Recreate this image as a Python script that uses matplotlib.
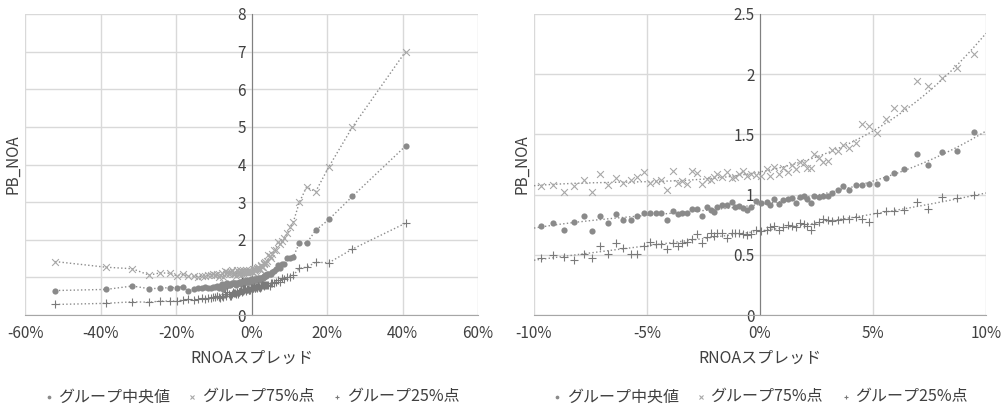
#!/usr/bin/env python
# -*- coding: utf-8 -*-
"""PB_NOA vs RNOA spread, by group (median / 75th / 25th percentile)
"""

import numpy as np
import matplotlib
matplotlib.use("Agg")
import matplotlib.pyplot as plt
from matplotlib.ticker import FuncFormatter

plt.rcParams['font.family'] = ['Noto Sans CJK JP', 'DejaVu Sans']

# group RNOA spread (%), sorted
rnoa = [-52.0, -38.5, -31.6, -27.1, -24.2, -21.6, -19.8, -18.2, -16.7, -15.3,
        -14.2, -13.2, -12.3, -11.5, -10.8, -10.2,
        -9.69, -9.18, -8.67, -8.22, -7.80, -7.42, -7.07, -6.71, -6.36, -6.06,
        -5.73, -5.44, -5.13, -4.87, -4.62, -4.39, -4.10, -3.83, -3.64, -3.44,
        -3.22, -3.00, -2.77, -2.58, -2.36, -2.18, -2.04, -1.89, -1.69, -1.45,
        -1.25, -1.11, -0.92, -0.77, -0.59, -0.40, -0.18, 0.05, 0.30, 0.44,
        0.62, 0.84, 1.03, 1.25, 1.43, 1.58, 1.77, 1.95, 2.10, 2.24,
        2.40, 2.61, 2.80, 3.00, 3.20, 3.44, 3.69, 3.95, 4.23, 4.50,
        4.84, 5.19, 5.56, 5.93, 6.37, 6.93, 7.45, 8.04, 8.70, 9.47,
        10.3, 11.1, 12.7, 14.6, 17.0, 20.5, 26.7, 40.8]

pb_median = [0.65, 0.68, 0.77, 0.70, 0.71, 0.73, 0.73, 0.75, 0.63, 0.70,
             0.72, 0.71, 0.74, 0.73, 0.72, 0.74,
             0.74, 0.76, 0.71, 0.77, 0.82, 0.70, 0.82, 0.76, 0.84, 0.79,
             0.79, 0.82, 0.85, 0.85, 0.85, 0.85, 0.79, 0.86, 0.84, 0.85,
             0.85, 0.88, 0.88, 0.82, 0.90, 0.87, 0.855, 0.895, 0.91, 0.91,
             0.94, 0.90, 0.905, 0.89, 0.87, 0.90, 0.95, 0.93, 0.94, 0.91,
             0.96, 0.92, 0.955, 0.96, 0.97, 0.93, 0.98, 0.99, 0.96, 0.93,
             0.99, 0.98, 0.99, 0.99, 1.01, 1.04, 1.07, 1.04, 1.08, 1.08,
             1.085, 1.09, 1.14, 1.18, 1.21, 1.34, 1.25, 1.35, 1.36, 1.52,
             1.52, 1.55, 1.92, 1.91, 2.25, 2.54, 3.15, 4.49]

pb_p75 = [1.42, 1.27, 1.23, 1.06, 1.12, 1.11, 1.04, 1.08, 1.04, 1.03,
          1.02, 1.03, 1.04, 1.05, 1.06, 1.08,
          1.07, 1.08, 1.02, 1.07, 1.12, 1.02, 1.17, 1.08, 1.14, 1.10,
          1.12, 1.15, 1.19, 1.10, 1.11, 1.12, 1.04, 1.20, 1.10, 1.11,
          1.09, 1.20, 1.18, 1.09, 1.13, 1.12, 1.15, 1.17, 1.15, 1.19,
          1.14, 1.15, 1.17, 1.20, 1.155, 1.17, 1.16, 1.155, 1.21, 1.155,
          1.23, 1.17, 1.22, 1.19, 1.25, 1.21, 1.27, 1.26, 1.22, 1.22,
          1.34, 1.30, 1.27, 1.28, 1.37, 1.36, 1.41, 1.39, 1.43, 1.59,
          1.57, 1.51, 1.63, 1.72, 1.72, 1.94, 1.90, 1.97, 2.05, 2.17,
          2.33, 2.48, 3.00, 3.40, 3.28, 3.94, 4.99, 7.00]

pb_p25 = [0.28, 0.31, 0.35, 0.34, 0.37, 0.37, 0.37, 0.40, 0.42, 0.40,
          0.43, 0.44, 0.43, 0.45, 0.46, 0.47,
          0.47, 0.50, 0.48, 0.46, 0.51, 0.47, 0.57, 0.51, 0.60, 0.56,
          0.51, 0.51, 0.57, 0.61, 0.59, 0.59, 0.55, 0.60, 0.57, 0.60,
          0.61, 0.63, 0.67, 0.60, 0.65, 0.68, 0.66, 0.685, 0.68, 0.64,
          0.685, 0.685, 0.685, 0.67, 0.665, 0.67, 0.705, 0.70, 0.71, 0.73,
          0.74, 0.705, 0.73, 0.75, 0.74, 0.73, 0.76, 0.755, 0.74, 0.71,
          0.755, 0.775, 0.795, 0.79, 0.78, 0.79, 0.80, 0.795, 0.81, 0.795,
          0.775, 0.845, 0.86, 0.86, 0.87, 0.94, 0.88, 0.98, 0.97, 1.00,
          1.02, 1.06, 1.24, 1.27, 1.40, 1.39, 1.75, 2.44]

series_names = ['グループ中央値', 'グループ75%点', 'グループ25%点']

x = np.array(rnoa)
series = [np.array(pb_median), np.array(pb_p75), np.array(pb_p25)]
markers = ['o', 'x', '+']
sizes = [20, 24, 26]
colors = ['#8a8a8a', '#a8a8a8', '#7a7a7a']
lw = [0, 0.8, 0.8]

fig = plt.figure(figsize=(10.07, 4.08), dpi=100)
ax_l = fig.add_axes([25 / 1007, 93 / 408, 453 / 1007, 301 / 408])
ax_r = fig.add_axes([534 / 1007, 93 / 408, 452 / 1007, 301 / 408])

pct = FuncFormatter(lambda v, p: '{:.0f}%'.format(v))
num = FuncFormatter(lambda v, p: '{:g}'.format(v))


def style(ax, xlim, xticks, ylim, yticks):
    ax.set_xlim(xlim)
    ax.set_ylim(ylim)
    ax.set_xticks(xticks)
    ax.set_yticks(yticks)
    ax.xaxis.set_major_formatter(pct)
    ax.yaxis.set_major_formatter(num)
    ax.grid(True, color='#d9d9d9', lw=1)
    ax.set_axisbelow(True)
    for s in ['top', 'right']:
        ax.spines[s].set_visible(False)
    ax.spines['left'].set_position(('data', 0))
    ax.spines['left'].set_color('#808080')
    ax.spines['bottom'].set_color('#a6a6a6')
    ax.tick_params(length=0, labelsize=11, colors='#404040')
    ax.tick_params(axis='x', pad=7)
    ax.tick_params(axis='y', pad=4)
    ax.set_xlabel('RNOAスプレッド', fontsize=11.5, color='#404040', labelpad=6)
    ax.set_ylabel('PB_NOA', fontsize=11, color='#404040')
    ax.yaxis.set_label_coords(-0.008, 0.5)


# left: full range, dotted lines joining the groups
for y, m, s, c, w, name in zip(series, markers, sizes, colors, lw, series_names):
    ax_l.plot(x, y, ls=':', color='#8c8c8c', lw=1, zorder=2)
    ax_l.scatter(x, y, marker=m, s=s, color=c, linewidths=w, label=name, zorder=3)
style(ax_l, (-60, 60), np.arange(-60, 61, 20), (0, 8), np.arange(0, 9, 1))

# right: zoom to +-10% with polynomial trendlines
inside = (x >= -10.5) & (x <= 10.5)
xf = np.linspace(-10, 10, 200)
for y, m, s, c, w, name in zip(series, markers, sizes, colors, lw, series_names):
    coef = np.polyfit(x[inside], y[inside], 3)
    ax_r.plot(xf, np.polyval(coef, xf), ls=':', color='#8c8c8c', lw=1, zorder=2)
    ax_r.scatter(x[inside], y[inside], marker=m, s=s, color=c, linewidths=w,
                 label=name, zorder=3)
style(ax_r, (-10, 10), np.arange(-10, 11, 5), (0, 2.5), np.arange(0, 2.51, 0.5))

for ax in [ax_l, ax_r]:
    ax.legend(loc='center', bbox_to_anchor=(0.5, -0.272), ncol=3, frameon=False,
              fontsize=11.5, markerscale=0.6, handlelength=0.6, handletextpad=0.3,
              columnspacing=1.1, labelcolor='#404040')

fig.savefig('out.png', dpi=100)
